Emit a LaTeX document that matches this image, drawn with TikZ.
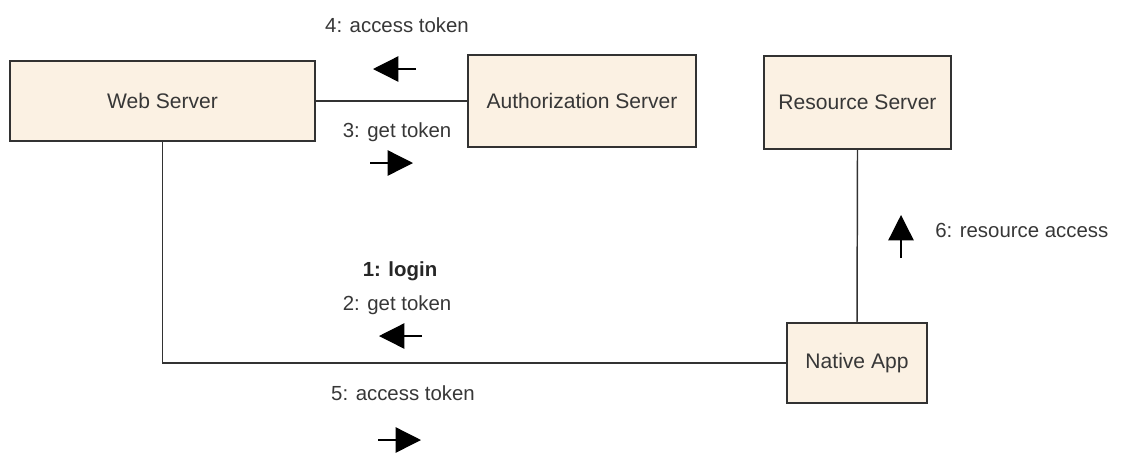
\documentclass[tikz,border=0pt]{standalone}
\usepackage{fontspec}
\setmainfont{Liberation Sans}
\usetikzlibrary{arrows.meta}
\definecolor{boxfill}{RGB}{251,241,227}
\definecolor{boxline}{RGB}{50,50,50}
\definecolor{txt}{RGB}{55,55,55}
\tikzset{
  comp/.style={draw=boxline, line width=1.3pt, fill=boxfill, inner sep=0pt, text=txt,
    font=\fontsize{15.8}{19}\selectfont},
  link/.style={draw=boxline, line width=1.1pt},
  msg/.style={text=txt, font=\fontsize{15.3}{18}\selectfont, inner sep=0pt},
  dirarrow/.style={draw=black, line width=1pt, -{Triangle[length=19pt,width=19pt]}}
}
\begin{document}
\begin{tikzpicture}[x=0.75pt,y=-0.75pt]
\useasboundingbox (0,0) rectangle (1123,455);
% components
\node[comp, minimum width=305*0.75pt, minimum height=80*0.75pt] (web) at (162.5,101) {Web Server};
\node[comp, minimum width=228*0.75pt, minimum height=92*0.75pt] (auth) at (582,101) {Authorization Server};
\node[comp, minimum width=187*0.75pt, minimum height=93*0.75pt] (res) at (857.5,102.5) {Resource Server};
\node[comp, minimum width=140*0.75pt, minimum height=80*0.75pt] (app) at (857,363) {Native App};
% links
\draw[link] (web.east) -- (auth.west);
\draw[link] (res.south) -- (app.north);
\draw[link] (app.west) -| (web.south);
% labels
\node[msg] (l4) at (397,25) {4: access token};
\node[msg] (l3) at (397,132) {3: get token};
\node[msg, font=\fontsize{15.3}{18}\selectfont\bfseries, text=black!85] (l1) at (400,271) {1: login};
\node[msg] (l2) at (397,305) {2: get token};
\node[msg] (l5) at (403,393) {5: access token};
\node[msg, anchor=west] (l6) at (935,230) {6: resource access};
% message arrows
\coordinate (a4s) at (416,69); \coordinate (a4e) at (373,69);
\coordinate (a3s) at (370,163); \coordinate (a3e) at (413,163);
\coordinate (a2s) at (422,336); \coordinate (a2e) at (379,336);
\coordinate (a5s) at (378,440); \coordinate (a5e) at (421,440);
\coordinate (a6s) at (901,258); \coordinate (a6e) at (901,215);
\draw[dirarrow] (a4s) -- (a4e);
\draw[dirarrow] (a3s) -- (a3e);
\draw[dirarrow] (a2s) -- (a2e);
\draw[dirarrow] (a5s) -- (a5e);
\draw[dirarrow] (a6s) -- (a6e);
\end{tikzpicture}
\end{document}
